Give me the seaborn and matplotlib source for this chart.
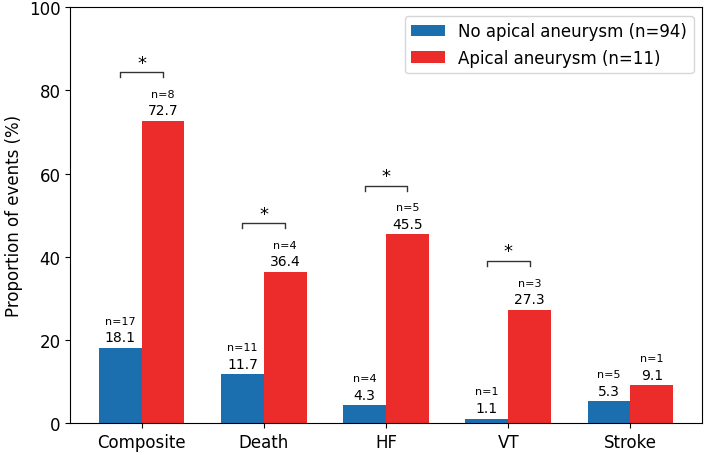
import pandas as pd
import matplotlib.pyplot as plt
import seaborn as sns

# data
categories = ['Composite', 'Death', 'HF', 'VT', 'Stroke']
groups = ['No apical aneurysm (n=94)', 'Apical aneurysm (n=11)']
no_aneurysm = [18.1, 11.7, 4.3, 1.1, 5.3]
aneurysm = [72.7, 36.4, 45.5, 27.3, 9.1]
n_no_aneurysm = [17, 11, 4, 1, 5]
n_aneurysm = [8, 4, 5, 3, 1]
significant = [True, True, True, True, False]

colors = ['#1c6fae', '#ec2b2b']

df = pd.DataFrame({
    'event': categories * 2,
    'group': [groups[0]] * len(categories) + [groups[1]] * len(categories),
    'value': no_aneurysm + aneurysm,
})

fig, ax = plt.subplots(figsize=(7.09, 4.56), dpi=100)
sns.barplot(data=df, x='event', y='value', hue='group', palette=colors,
            width=0.7, saturation=1, ax=ax)

# labels above bars
for container, ns in zip(ax.containers, [n_no_aneurysm, n_aneurysm]):
    for bar, n in zip(container, ns):
        x = bar.get_x() + bar.get_width() / 2
        h = bar.get_height()
        ax.text(x, h + 0.8, f'{h:.1f}', ha='center', va='bottom', fontsize=10)
        ax.text(x, h + 5.3, f'n={n}', ha='center', va='bottom', fontsize=8)

# significance brackets
blue_bars = ax.containers[0]
red_bars = ax.containers[1]
for b, r, sig in zip(blue_bars, red_bars, significant):
    if not sig:
        continue
    x1 = b.get_x() + b.get_width() / 2
    x2 = r.get_x() + r.get_width() / 2
    y = r.get_height() + 11.6
    ax.plot([x1, x1, x2, x2], [y - 1.2, y, y, y - 1.2], color='#333333', lw=1)
    ax.text((x1 + x2) / 2, y + 0.2, '*', ha='center', va='bottom', fontsize=13)

ax.set_xlim(-0.585, 4.585)
ax.set_ylim(0, 100)
ax.set_xlabel('')
ax.set_ylabel('Proportion of events (%)', fontsize=12)
ax.tick_params(axis='both', labelsize=12)
ax.legend(loc='upper right', fontsize=12, title=None)

fig.subplots_adjust(left=0.099, right=0.99, top=0.982, bottom=0.070)
plt.savefig('out.png', dpi=100)
plt.close()
